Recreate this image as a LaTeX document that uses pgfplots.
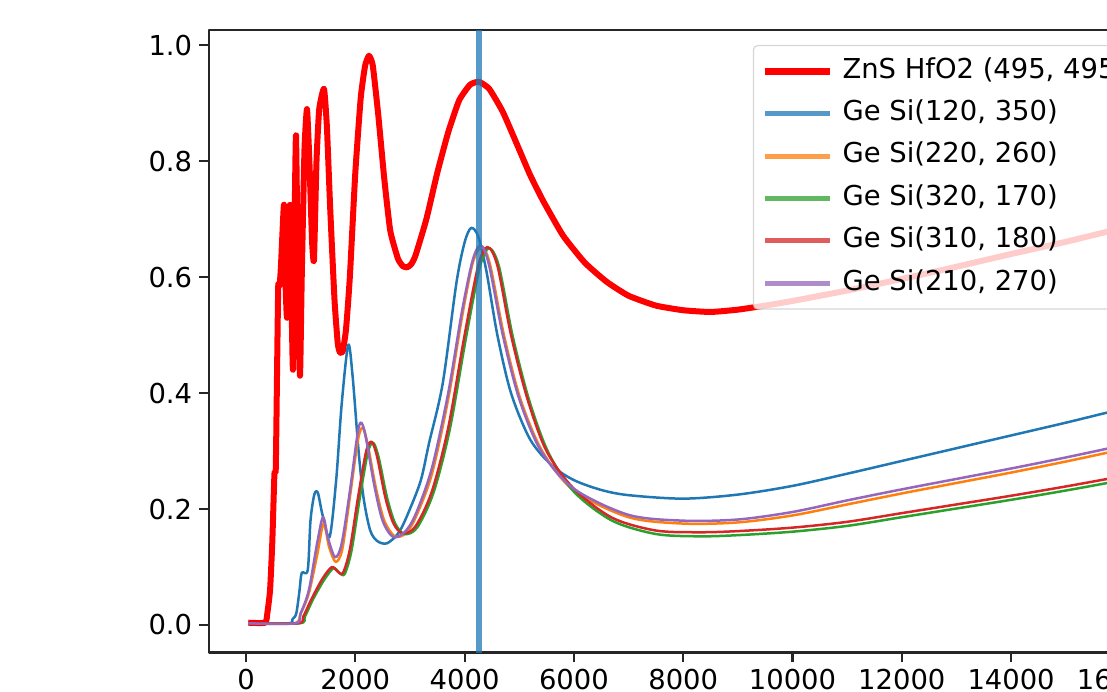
\documentclass[border=0pt]{standalone}
\usepackage{fontspec}
\setmainfont{DejaVu Sans}
\usepackage{pgfplots}
\pgfplotsset{compat=1.18}
\definecolor{cA}{HTML}{1F77B4}
\definecolor{cB}{HTML}{FF7F0E}
\definecolor{cC}{HTML}{2CA02C}
\definecolor{cD}{HTML}{D62728}
\definecolor{cE}{HTML}{9467BD}
\newcommand{\fs}{\fontsize{13.7}{16}\selectfont}
\begin{document}
\begin{tikzpicture}
\path[use as bounding box] (0,0) rectangle (553.5pt,345.5pt);
\clip (0,0) rectangle (553.5pt,345.5pt);
\begin{axis}[
  at={(104.5pt,19.25pt)}, anchor=south west,
  scale only axis, width=565pt, height=311.25pt,
  xmin=-677, xmax=20000, ymin=-0.0474, ymax=1.0264,
  xtick={0,2000,4000,6000,8000,10000,12000,14000,16000,18000},
  ytick={0,0.2,0.4,0.6,0.8,1.0},
  tick pos=left, tick align=outside,
  major tick length=4.9pt,
  axis line style={black!85, line width=1.1pt},
  every tick/.style={black!85, line width=1.1pt},
  /pgf/number format/assume math mode=true,
  xticklabel style={font=\fs, /pgf/number format/set thousands separator={}},
  yticklabel style={font=\fs, /pgf/number format/fixed, /pgf/number format/precision=1, /pgf/number format/fixed zerofill},
  scaled ticks=false,
  legend image code/.code={\draw[#1] (0pt,0pt) -- (32.5pt,0pt);},
  legend image post style={line width=2.5pt, opacity=0.75},
  legend cell align=left,
  legend style={at={(0.4814,0.9759)}, anchor=north west, fill=white, fill opacity=0.8, draw opacity=0.8, text opacity=1, draw=black!20, rounded corners=2pt, font=\fs, inner sep=4pt, row sep=3.5pt, nodes={inner ysep=2.5pt, text height=9.8pt, text depth=2.9pt, inner xsep=4.5pt}, line width=0.6pt},
  line join=round,
]
\addplot[red, line width=3pt, smooth, tension=0.3, legend image post style={line width=3.5pt, opacity=1}] coordinates {
(40,0.004)(350,0.004)(390,0.02)(440,0.06)(480,0.14)(520,0.26)(545,0.27)(570,0.45)(590,0.585)(615,0.585)(640,0.62)(695,0.725)(720,0.60)(750,0.53)(780,0.65)(805,0.725)(835,0.55)(860,0.44)(890,0.70)(915,0.845)(950,0.60)(988,0.43)(1020,0.60)(1070,0.82)(1116,0.89)(1160,0.80)(1210,0.66)(1244,0.63)(1290,0.80)(1340,0.89)(1427,0.925)(1480,0.86)(1540,0.72)(1620,0.56)(1680,0.485)(1720,0.47)(1770,0.472)(1830,0.51)(1900,0.60)(2000,0.78)(2100,0.91)(2180,0.965)(2251,0.982)(2320,0.965)(2420,0.88)(2530,0.77)(2640,0.68)(2780,0.632)(2870,0.619)(2946,0.617)(3020,0.622)(3100,0.637)(3300,0.70)(3500,0.78)(3700,0.85)(3900,0.905)(4100,0.932)(4263,0.937)(4450,0.925)(4700,0.885)(5000,0.82)(5200,0.776)(5435,0.732)(5800,0.672)(6200,0.625)(6600,0.592)(7000,0.568)(7500,0.551)(8000,0.543)(8500,0.540)(9000,0.544)(9500,0.551)(10000,0.559)(11000,0.577)(12000,0.597)(13000,0.618)(14000,0.64)(15000,0.661)(16000,0.684)(17000,0.705)(18500,0.737)};
\addlegendentry{ZnS HfO2 (495, 495)}
\addplot[cA, line width=1.25pt, smooth, tension=0.5] coordinates {
(40,0.003)(780,0.003)(850,0.01)(920,0.02)(980,0.06)(1020,0.09)(1130,0.095)(1180,0.18)(1250,0.225)(1315,0.228)(1400,0.19)(1530,0.152)(1650,0.25)(1750,0.38)(1870,0.483)(1950,0.43)(2060,0.30)(2150,0.22)(2270,0.164)(2400,0.145)(2580,0.141)(2800,0.16)(2990,0.198)(3200,0.25)(3350,0.314)(3600,0.417)(3850,0.59)(4000,0.66)(4120,0.685)(4250,0.67)(4400,0.61)(4600,0.50)(4850,0.40)(5200,0.32)(5600,0.275)(6000,0.25)(6500,0.233)(7000,0.224)(8000,0.218)(9000,0.225)(10000,0.240)(11000,0.261)(12000,0.283)(13000,0.305)(14000,0.327)(15000,0.349)(16000,0.372)(17000,0.394)(18500,0.428)};
\addlegendentry{Ge Si(120, 350)}
\addplot[cB, line width=1.25pt, smooth, tension=0.5] coordinates {
(40,0.003)(880,0.003)(1000,0.02)(1150,0.055)(1300,0.12)(1420,0.175)(1520,0.135)(1640,0.109)(1760,0.13)(1900,0.22)(2050,0.32)(2140,0.34)(2230,0.31)(2380,0.235)(2530,0.18)(2720,0.153)(2920,0.158)(3100,0.185)(3400,0.26)(3700,0.39)(3950,0.53)(4150,0.625)(4320,0.652)(4470,0.62)(4720,0.50)(5020,0.39)(5420,0.30)(6000,0.232)(7000,0.186)(8000,0.175)(9000,0.177)(10000,0.189)(11000,0.208)(12000,0.227)(13000,0.245)(14000,0.263)(15000,0.282)(16000,0.302)(17000,0.321)(18500,0.35)};
\addlegendentry{Ge Si(220, 260)}
\addplot[cC, line width=1.25pt, smooth, tension=0.5] coordinates {
(40,0.003)(980,0.003)(1080,0.015)(1230,0.045)(1430,0.078)(1600,0.098)(1710,0.09)(1805,0.088)(1930,0.128)(2080,0.218)(2230,0.298)(2330,0.314)(2430,0.288)(2580,0.22)(2730,0.175)(2900,0.157)(3130,0.168)(3430,0.228)(3730,0.338)(4030,0.498)(4280,0.618)(4450,0.65)(4630,0.618)(4880,0.498)(5180,0.388)(5530,0.298)(6000,0.23)(6700,0.18)(7500,0.157)(8300,0.153)(9000,0.155)(10000,0.161)(11000,0.171)(12000,0.186)(13000,0.201)(14000,0.216)(15000,0.232)(16000,0.249)(17000,0.265)(18500,0.29)};
\addlegendentry{Ge Si(320, 170)}
\addplot[cD, line width=1.25pt, smooth, tension=0.5] coordinates {
(40,0.003)(950,0.003)(1050,0.015)(1200,0.045)(1400,0.08)(1570,0.10)(1680,0.092)(1775,0.09)(1900,0.13)(2050,0.22)(2200,0.30)(2300,0.316)(2400,0.29)(2550,0.22)(2700,0.175)(2870,0.158)(3100,0.17)(3400,0.23)(3700,0.34)(4000,0.50)(4250,0.62)(4420,0.652)(4600,0.62)(4850,0.50)(5150,0.39)(5500,0.30)(6000,0.235)(6700,0.185)(7500,0.163)(8300,0.16)(9000,0.162)(10000,0.168)(11000,0.178)(12000,0.193)(13000,0.208)(14000,0.223)(15000,0.239)(16000,0.256)(17000,0.272)(18500,0.297)};
\addlegendentry{Ge Si(310, 180)}
\addplot[cE, line width=1.25pt, smooth, tension=0.5] coordinates {
(40,0.003)(900,0.003)(1000,0.02)(1150,0.06)(1300,0.14)(1410,0.186)(1500,0.15)(1630,0.117)(1750,0.14)(1900,0.23)(2050,0.335)(2120,0.348)(2200,0.32)(2350,0.24)(2500,0.18)(2690,0.152)(2900,0.16)(3100,0.19)(3400,0.27)(3700,0.40)(3950,0.54)(4150,0.63)(4300,0.655)(4450,0.62)(4700,0.50)(5000,0.39)(5400,0.30)(6000,0.235)(7000,0.19)(8000,0.18)(9000,0.182)(10000,0.195)(11000,0.215)(12000,0.234)(13000,0.252)(14000,0.27)(15000,0.289)(16000,0.309)(17000,0.328)(18500,0.357)};
\addlegendentry{Ge Si(210, 270)}
\addplot[cA, opacity=0.75, line width=3pt, forget plot] coordinates {(4263,-0.0474)(4263,1.0264)};
\end{axis}
\end{tikzpicture}
\end{document}
